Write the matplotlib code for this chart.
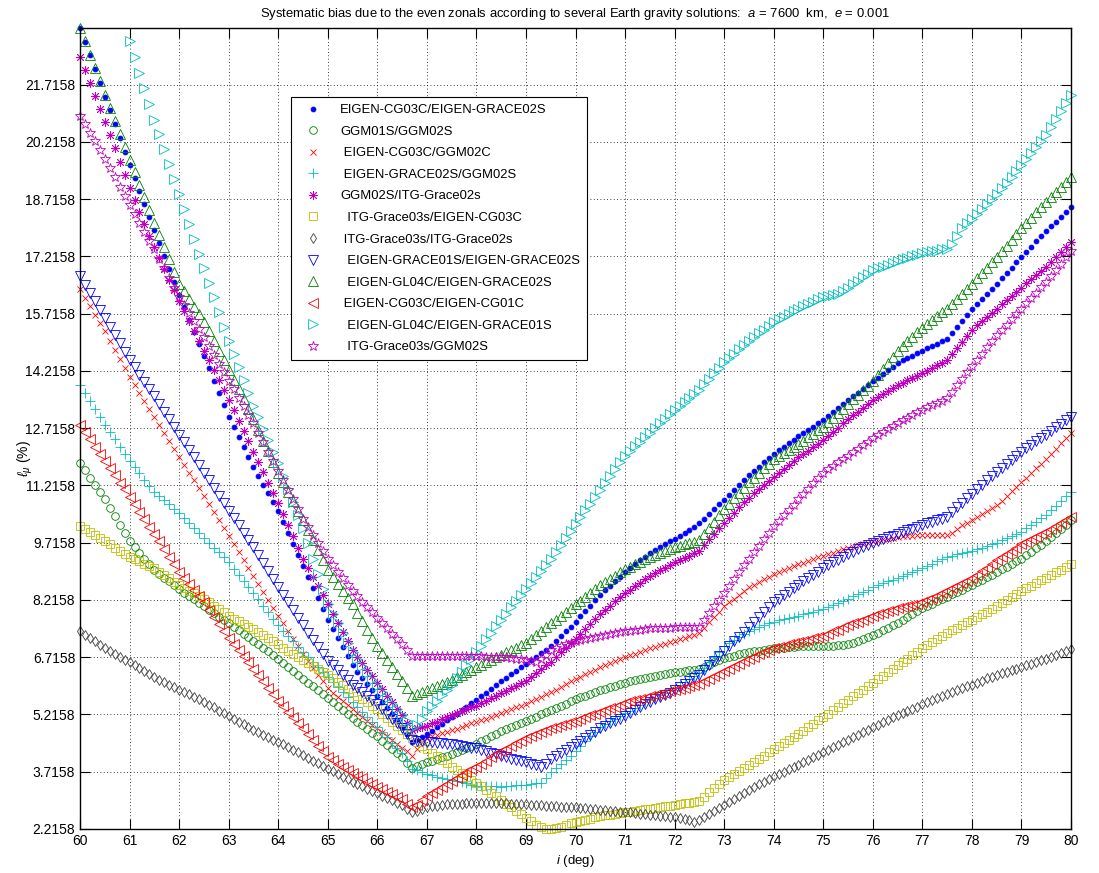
import numpy as np
import matplotlib
matplotlib.use('Agg')
import matplotlib.pyplot as plt
from matplotlib.ticker import FormatStrFormatter

plt.rcParams['font.family'] = ['Liberation Sans', 'DejaVu Sans']
plt.rcParams['mathtext.fontset'] = 'custom'
plt.rcParams['mathtext.it'] = 'Liberation Sans:italic'
plt.rcParams['mathtext.rm'] = 'Liberation Sans'

# inclination grid (deg), 0.1 deg step
incl = np.linspace(60.0, 80.0, 201)

labels = ['EIGEN-CG03C/EIGEN-GRACE02S', 'GGM01S/GGM02S', ' EIGEN-CG03C/GGM02C',
          ' EIGEN-GRACE02S/GGM02S', 'GGM02S/ITG-Grace02s', '  ITG-Grace03s/EIGEN-CG03C',
          ' ITG-Grace03s/ITG-Grace02s', '  EIGEN-GRACE01S/EIGEN-GRACE02S',
          '  EIGEN-GL04C/EIGEN-GRACE02S', ' EIGEN-CG03C/EIGEN-CG01C',
          '  EIGEN-GL04C/EIGEN-GRACE01S', '  ITG-Grace03s/GGM02S']

cg03c_grace02s = [
 23.2, 22.84, 22.48, 22.12, 21.76, 21.4, 21.04, 20.68, 20.32, 19.96,
 19.6, 19.26, 18.92, 18.58, 18.24, 17.9, 17.56, 17.22, 16.88, 16.54,
 16.2, 15.88, 15.56, 15.24, 14.92, 14.6, 14.28, 13.96, 13.64, 13.32,
 13.0, 12.74, 12.48, 12.22, 11.96, 11.7, 11.47, 11.24, 11.01, 10.78,
 10.55, 10.26, 9.97, 9.68, 9.39, 9.1, 8.82, 8.54, 8.26, 7.98,
 7.7, 7.46, 7.22, 6.98, 6.74, 6.5, 6.34, 6.18, 6.02, 5.86,
 5.7, 5.54, 5.38, 5.22, 5.06, 4.9, 4.7, 4.5, 4.55, 4.62,
 4.7, 4.79, 4.88, 4.97, 5.06, 5.15, 5.24, 5.33, 5.42, 5.51,
 5.6, 5.7, 5.79, 5.89, 5.98, 6.08, 6.17, 6.27, 6.36, 6.46,
 6.55, 6.64, 6.73, 6.82, 6.91, 7.0, 7.13, 7.26, 7.39, 7.52,
 7.65, 7.79, 7.93, 8.07, 8.21, 8.35, 8.47, 8.59, 8.71, 8.83,
 8.95, 9.05, 9.15, 9.25, 9.35, 9.45, 9.52, 9.6, 9.67, 9.75,
 9.82, 9.9, 9.98, 10.06, 10.14, 10.22, 10.34, 10.47, 10.59, 10.72,
 10.84, 10.97, 11.1, 11.22, 11.35, 11.48, 11.59, 11.71, 11.82, 11.94,
 12.05, 12.14, 12.23, 12.32, 12.41, 12.5, 12.59, 12.67, 12.76, 12.84,
 12.93, 13.03, 13.14, 13.24, 13.35, 13.45, 13.55, 13.65, 13.75, 13.85,
 13.95, 14.04, 14.14, 14.23, 14.33, 14.42, 14.49, 14.55, 14.62, 14.68,
 14.75, 14.81, 14.87, 14.93, 14.99, 15.05, 15.21, 15.37, 15.53, 15.69,
 15.85, 15.98, 16.11, 16.24, 16.37, 16.5, 16.64, 16.78, 16.92, 17.06,
 17.2, 17.34, 17.47, 17.61, 17.74, 17.88, 18.0, 18.13, 18.25, 18.38,
 18.5]

ggm01s_ggm02s = [
 11.8, 11.61, 11.42, 11.23, 11.04, 10.85, 10.63, 10.41, 10.19, 9.97,
 9.75, 9.6, 9.45, 9.3, 9.15, 9.0, 8.9, 8.8, 8.7, 8.6,
 8.5, 8.41, 8.32, 8.23, 8.14, 8.05, 7.96, 7.87, 7.78, 7.69,
 7.6, 7.51, 7.42, 7.33, 7.24, 7.15, 7.06, 6.96, 6.87, 6.77,
 6.68, 6.57, 6.47, 6.36, 6.26, 6.15, 6.05, 5.95, 5.85, 5.75,
 5.65, 5.54, 5.44, 5.33, 5.23, 5.12, 5.02, 4.93, 4.83, 4.74,
 4.64, 4.53, 4.42, 4.32, 4.21, 4.1, 3.95, 3.82, 3.86, 3.92,
 3.97, 4.01, 4.05, 4.09, 4.13, 4.17, 4.23, 4.28, 4.34, 4.39,
 4.45, 4.52, 4.58, 4.65, 4.71, 4.78, 4.83, 4.89, 4.94, 5.0,
 5.05, 5.11, 5.16, 5.22, 5.27, 5.33, 5.39, 5.45, 5.5, 5.56,
 5.62, 5.67, 5.71, 5.76, 5.8, 5.85, 5.89, 5.93, 5.97, 6.01,
 6.05, 6.08, 6.11, 6.14, 6.17, 6.2, 6.22, 6.25, 6.27, 6.3,
 6.32, 6.34, 6.35, 6.37, 6.38, 6.4, 6.46, 6.52, 6.58, 6.64,
 6.7, 6.73, 6.76, 6.79, 6.82, 6.85, 6.87, 6.89, 6.91, 6.93,
 6.95, 6.96, 6.97, 6.98, 6.99, 7.0, 7.0, 7.0, 7.0, 7.0,
 7.0, 7.01, 7.02, 7.03, 7.04, 7.05, 7.1, 7.15, 7.2, 7.25,
 7.3, 7.36, 7.43, 7.49, 7.56, 7.62, 7.7, 7.77, 7.85, 7.92,
 8.0, 8.06, 8.12, 8.18, 8.24, 8.3, 8.36, 8.43, 8.49, 8.56,
 8.62, 8.69, 8.75, 8.82, 8.88, 8.95, 9.02, 9.09, 9.16, 9.23,
 9.3, 9.39, 9.48, 9.57, 9.66, 9.75, 9.86, 9.97, 10.08, 10.19,
 10.3]

cg03c_ggm02c = [
 16.35, 16.13, 15.91, 15.69, 15.47, 15.25, 15.01, 14.77, 14.53, 14.29,
 14.05, 13.84, 13.63, 13.42, 13.21, 13.0, 12.79, 12.58, 12.37, 12.16,
 11.95, 11.75, 11.55, 11.35, 11.15, 10.95, 10.74, 10.53, 10.32, 10.11,
 9.9, 9.69, 9.48, 9.27, 9.06, 8.85, 8.64, 8.43, 8.22, 8.01,
 7.8, 7.6, 7.4, 7.2, 7.0, 6.8, 6.62, 6.44, 6.26, 6.08,
 5.9, 5.79, 5.68, 5.57, 5.46, 5.35, 5.25, 5.15, 5.05, 4.95,
 4.85, 4.75, 4.65, 4.55, 4.45, 4.35, 4.25, 4.12, 4.3, 4.5,
 4.6, 4.64, 4.68, 4.72, 4.76, 4.8, 4.84, 4.89, 4.93, 4.98,
 5.02, 5.07, 5.11, 5.16, 5.2, 5.25, 5.3, 5.35, 5.4, 5.45,
 5.5, 5.56, 5.62, 5.68, 5.74, 5.8, 5.87, 5.94, 6.01, 6.08,
 6.15, 6.21, 6.27, 6.33, 6.39, 6.45, 6.5, 6.56, 6.61, 6.67,
 6.72, 6.77, 6.81, 6.86, 6.9, 6.95, 6.99, 7.03, 7.07, 7.11,
 7.15, 7.19, 7.23, 7.27, 7.31, 7.35, 7.49, 7.63, 7.77, 7.91,
 8.05, 8.15, 8.25, 8.35, 8.45, 8.55, 8.62, 8.69, 8.76, 8.83,
 8.9, 8.95, 9.0, 9.05, 9.1, 9.15, 9.19, 9.24, 9.28, 9.33,
 9.37, 9.41, 9.45, 9.5, 9.54, 9.58, 9.61, 9.65, 9.68, 9.72,
 9.75, 9.77, 9.8, 9.82, 9.85, 9.87, 9.88, 9.89, 9.9, 9.91,
 9.92, 9.92, 9.92, 9.93, 9.93, 9.93, 9.98, 10.08, 10.17, 10.24,
 10.3, 10.38, 10.46, 10.54, 10.62, 10.7, 10.82, 10.94, 11.06, 11.18,
 11.3, 11.42, 11.54, 11.66, 11.78, 11.9, 12.04, 12.18, 12.32, 12.46,
 12.6]

grace02s_ggm02s = [
 13.85, 13.64, 13.43, 13.22, 13.01, 12.8, 12.61, 12.42, 12.23, 12.04,
 11.85, 11.69, 11.53, 11.37, 11.21, 11.05, 10.94, 10.83, 10.72, 10.61,
 10.5, 10.37, 10.24, 10.11, 9.98, 9.85, 9.72, 9.59, 9.46, 9.33,
 9.2, 9.04, 8.88, 8.72, 8.56, 8.4, 8.23, 8.06, 7.89, 7.72,
 7.55, 7.41, 7.27, 7.13, 6.99, 6.85, 6.72, 6.59, 6.46, 6.33,
 6.2, 6.07, 5.94, 5.81, 5.68, 5.55, 5.42, 5.29, 5.16, 5.03,
 4.9, 4.76, 4.62, 4.48, 4.34, 4.2, 4.0, 3.8, 3.75, 3.7,
 3.65, 3.62, 3.59, 3.56, 3.53, 3.5, 3.47, 3.44, 3.41, 3.38,
 3.35, 3.34, 3.34, 3.33, 3.33, 3.32, 3.33, 3.35, 3.36, 3.37,
 3.38, 3.4, 3.42, 3.42, 3.55, 3.7, 3.81, 3.92, 4.03, 4.14,
 4.25, 4.38, 4.51, 4.64, 4.77, 4.9, 4.97, 5.04, 5.11, 5.18,
 5.25, 5.32, 5.39, 5.46, 5.53, 5.6, 5.66, 5.73, 5.79, 5.86,
 5.92, 6.0, 6.07, 6.15, 6.22, 6.3, 6.44, 6.58, 6.72, 6.86,
 7.0, 7.08, 7.16, 7.24, 7.32, 7.4, 7.45, 7.5, 7.55, 7.6,
 7.65, 7.68, 7.71, 7.74, 7.77, 7.8, 7.84, 7.87, 7.91, 7.94,
 7.98, 8.03, 8.09, 8.14, 8.2, 8.25, 8.31, 8.37, 8.43, 8.49,
 8.55, 8.6, 8.65, 8.7, 8.75, 8.8, 8.85, 8.9, 8.95, 9.0,
 9.05, 9.11, 9.17, 9.23, 9.29, 9.35, 9.38, 9.41, 9.44, 9.47,
 9.5, 9.54, 9.59, 9.63, 9.68, 9.72, 9.78, 9.83, 9.89, 9.94,
 10.0, 10.09, 10.18, 10.27, 10.36, 10.45, 10.57, 10.69, 10.81, 10.93,
 11.05]

ggm02s_itg02s = [
 22.45, 22.11, 21.77, 21.43, 21.09, 20.75, 20.4, 20.05, 19.7, 19.35,
 19.0, 18.69, 18.38, 18.07, 17.76, 17.45, 17.17, 16.89, 16.61, 16.33,
 16.05, 15.79, 15.53, 15.27, 15.01, 14.75, 14.49, 14.23, 13.97, 13.71,
 13.45, 13.18, 12.91, 12.64, 12.37, 12.1, 11.83, 11.56, 11.29, 11.02,
 10.75, 10.46, 10.17, 9.88, 9.59, 9.3, 9.06, 8.82, 8.58, 8.34,
 8.1, 7.86, 7.62, 7.38, 7.14, 6.9, 6.73, 6.56, 6.39, 6.22,
 6.05, 5.88, 5.71, 5.54, 5.37, 5.2, 5.0, 4.82, 4.85, 4.88,
 4.92, 4.98, 5.03, 5.09, 5.14, 5.2, 5.25, 5.3, 5.35, 5.4,
 5.45, 5.52, 5.58, 5.65, 5.71, 5.78, 5.84, 5.91, 5.97, 6.04,
 6.1, 6.2, 6.3, 6.4, 6.5, 6.6, 6.72, 6.84, 6.96, 7.08,
 7.2, 7.33, 7.46, 7.59, 7.72, 7.85, 7.96, 8.07, 8.18, 8.29,
 8.4, 8.49, 8.58, 8.67, 8.76, 8.85, 8.92, 8.99, 9.06, 9.13,
 9.2, 9.26, 9.32, 9.38, 9.44, 9.5, 9.65, 9.8, 9.94, 10.09,
 10.24, 10.37, 10.5, 10.64, 10.77, 10.9, 11.01, 11.12, 11.23, 11.34,
 11.45, 11.55, 11.65, 11.75, 11.85, 11.95, 12.04, 12.13, 12.22, 12.31,
 12.4, 12.51, 12.62, 12.73, 12.84, 12.95, 13.05, 13.15, 13.25, 13.35,
 13.45, 13.53, 13.61, 13.69, 13.77, 13.85, 13.91, 13.97, 14.03, 14.09,
 14.15, 14.22, 14.29, 14.36, 14.43, 14.5, 14.66, 14.82, 14.98, 15.14,
 15.3, 15.41, 15.52, 15.63, 15.74, 15.85, 15.96, 16.07, 16.18, 16.29,
 16.4, 16.51, 16.62, 16.73, 16.84, 16.95, 17.08, 17.21, 17.34, 17.47,
 17.6]

itg03s_cg03c = [
 10.15, 10.07, 9.99, 9.91, 9.83, 9.75, 9.67, 9.59, 9.51, 9.43,
 9.35, 9.29, 9.23, 9.17, 9.11, 9.05, 8.96, 8.87, 8.78, 8.69,
 8.6, 8.53, 8.46, 8.39, 8.32, 8.25, 8.16, 8.07, 7.98, 7.89,
 7.8, 7.73, 7.66, 7.59, 7.52, 7.45, 7.37, 7.29, 7.21, 7.13,
 7.05, 6.97, 6.89, 6.81, 6.73, 6.65, 6.57, 6.49, 6.41, 6.33,
 6.25, 6.16, 6.07, 5.98, 5.89, 5.8, 5.71, 5.62, 5.53, 5.44,
 5.35, 5.24, 5.13, 5.02, 4.91, 4.8, 4.7, 4.6, 4.5, 4.4,
 4.3, 4.21, 4.12, 4.03, 3.94, 3.85, 3.76, 3.68, 3.59, 3.51,
 3.42, 3.33, 3.24, 3.16, 3.07, 2.98, 2.88, 2.79, 2.69, 2.6,
 2.5, 2.42, 2.33, 2.26, 2.2158, 2.2158, 2.23, 2.27, 2.31, 2.36,
 2.4, 2.43, 2.46, 2.49, 2.52, 2.55, 2.57, 2.59, 2.61, 2.63,
 2.65, 2.67, 2.69, 2.71, 2.73, 2.75, 2.77, 2.79, 2.81, 2.83,
 2.85, 2.87, 2.89, 2.91, 2.93, 2.95, 3.05, 3.18, 3.3, 3.4,
 3.5, 3.58, 3.66, 3.74, 3.82, 3.9, 3.98, 4.06, 4.14, 4.22,
 4.3, 4.38, 4.46, 4.54, 4.62, 4.7, 4.79, 4.88, 4.97, 5.06,
 5.15, 5.24, 5.33, 5.42, 5.51, 5.6, 5.69, 5.78, 5.87, 5.96,
 6.05, 6.14, 6.23, 6.32, 6.41, 6.5, 6.59, 6.68, 6.77, 6.86,
 6.95, 7.03, 7.11, 7.19, 7.27, 7.35, 7.42, 7.49, 7.56, 7.63,
 7.7, 7.77, 7.84, 7.91, 7.98, 8.05, 8.13, 8.21, 8.29, 8.37,
 8.45, 8.52, 8.59, 8.66, 8.73, 8.8, 8.87, 8.94, 9.01, 9.08,
 9.15]

itg03s_itg02s = [
 7.4, 7.31, 7.22, 7.13, 7.04, 6.95, 6.88, 6.8, 6.73, 6.65,
 6.58, 6.5, 6.43, 6.35, 6.28, 6.2, 6.13, 6.07, 6.0, 5.94,
 5.87, 5.81, 5.74, 5.68, 5.61, 5.55, 5.47, 5.4, 5.32, 5.25,
 5.17, 5.1, 5.03, 4.96, 4.89, 4.82, 4.76, 4.69, 4.63, 4.56,
 4.5, 4.43, 4.36, 4.29, 4.22, 4.15, 4.08, 4.01, 3.94, 3.87,
 3.8, 3.73, 3.66, 3.59, 3.52, 3.45, 3.39, 3.33, 3.27, 3.21,
 3.15, 3.09, 3.03, 2.97, 2.91, 2.85, 2.75, 2.65, 2.68, 2.75,
 2.8, 2.81, 2.83, 2.84, 2.86, 2.87, 2.88, 2.88, 2.89, 2.89,
 2.9, 2.9, 2.9, 2.9, 2.9, 2.9, 2.89, 2.88, 2.88, 2.87,
 2.86, 2.85, 2.84, 2.84, 2.83, 2.82, 2.81, 2.8, 2.8, 2.79,
 2.78, 2.77, 2.76, 2.74, 2.73, 2.72, 2.71, 2.7, 2.68, 2.67,
 2.66, 2.65, 2.63, 2.62, 2.6, 2.59, 2.58, 2.56, 2.55, 2.53,
 2.52, 2.5, 2.47, 2.44, 2.4, 2.45, 2.52, 2.6, 2.68, 2.77,
 2.85, 2.93, 3.01, 3.09, 3.17, 3.25, 3.32, 3.39, 3.46, 3.53,
 3.6, 3.66, 3.72, 3.78, 3.84, 3.9, 3.97, 4.03, 4.1, 4.16,
 4.23, 4.29, 4.36, 4.42, 4.49, 4.55, 4.62, 4.68, 4.75, 4.81,
 4.88, 4.94, 5.01, 5.07, 5.14, 5.2, 5.26, 5.31, 5.37, 5.42,
 5.48, 5.53, 5.59, 5.64, 5.7, 5.75, 5.8, 5.85, 5.9, 5.95,
 6.0, 6.05, 6.1, 6.16, 6.21, 6.26, 6.3, 6.34, 6.38, 6.42,
 6.46, 6.5, 6.55, 6.59, 6.64, 6.68, 6.73, 6.78, 6.82, 6.87,
 6.92]

grace01s_grace02s = [
 16.7, 16.48, 16.26, 16.04, 15.82, 15.6, 15.38, 15.16, 14.94, 14.72,
 14.5, 14.31, 14.12, 13.93, 13.74, 13.55, 13.35, 13.15, 12.95, 12.75,
 12.55, 12.35, 12.15, 11.95, 11.75, 11.55, 11.35, 11.15, 10.95, 10.75,
 10.55, 10.36, 10.17, 9.98, 9.79, 9.6, 9.39, 9.18, 8.97, 8.76,
 8.55, 8.35, 8.15, 7.95, 7.75, 7.55, 7.36, 7.18, 6.99, 6.81,
 6.62, 6.5, 6.37, 6.25, 6.12, 6.0, 5.9, 5.8, 5.7, 5.6,
 5.5, 5.37, 5.24, 5.11, 4.98, 4.85, 4.7, 4.55, 4.53, 4.52,
 4.5, 4.49, 4.48, 4.46, 4.45, 4.44, 4.42, 4.4, 4.37, 4.35,
 4.33, 4.29, 4.25, 4.21, 4.17, 4.13, 4.1, 4.06, 4.03, 3.99,
 3.96, 3.92, 3.88, 3.85, 3.93, 4.05, 4.13, 4.21, 4.29, 4.37,
 4.45, 4.53, 4.61, 4.69, 4.77, 4.85, 4.92, 4.98, 5.05, 5.11,
 5.18, 5.25, 5.33, 5.4, 5.48, 5.55, 5.61, 5.67, 5.73, 5.79,
 5.85, 5.93, 6.01, 6.09, 6.17, 6.25, 6.38, 6.5, 6.63, 6.75,
 6.88, 7.0, 7.13, 7.25, 7.38, 7.5, 7.63, 7.76, 7.89, 8.02,
 8.15, 8.24, 8.34, 8.43, 8.53, 8.62, 8.71, 8.79, 8.88, 8.96,
 9.05, 9.12, 9.2, 9.27, 9.35, 9.42, 9.48, 9.54, 9.6, 9.66,
 9.72, 9.77, 9.81, 9.86, 9.9, 9.95, 9.99, 10.04, 10.08, 10.13,
 10.17, 10.22, 10.26, 10.31, 10.35, 10.4, 10.52, 10.64, 10.76, 10.88,
 11.0, 11.12, 11.23, 11.35, 11.46, 11.58, 11.68, 11.79, 11.89, 12.0,
 12.1, 12.19, 12.28, 12.37, 12.46, 12.55, 12.64, 12.74, 12.83, 12.93,
 13.02]

gl04c_grace02s = [
 23.2, 22.85, 22.5, 22.15, 21.8, 21.45, 21.11, 20.77, 20.43, 20.09,
 19.75, 19.42, 19.09, 18.76, 18.43, 18.1, 17.78, 17.46, 17.14, 16.82,
 16.5, 16.3, 16.1, 15.9, 15.7, 15.5, 15.25, 15.0, 14.75, 14.5,
 14.25, 13.99, 13.73, 13.47, 13.21, 12.95, 12.67, 12.39, 12.11, 11.83,
 11.55, 11.3, 11.05, 10.8, 10.55, 10.3, 10.04, 9.78, 9.52, 9.26,
 9.0, 8.82, 8.64, 8.46, 8.28, 8.1, 7.88, 7.66, 7.44, 7.22,
 7.0, 6.82, 6.64, 6.46, 6.28, 6.1, 5.9, 5.7, 5.75, 5.8,
 5.85, 5.9, 5.96, 6.01, 6.07, 6.12, 6.19, 6.25, 6.32, 6.38,
 6.45, 6.52, 6.58, 6.65, 6.71, 6.78, 6.84, 6.91, 6.97, 7.04,
 7.1, 7.2, 7.3, 7.4, 7.5, 7.6, 7.7, 7.8, 7.9, 8.0,
 8.1, 8.2, 8.3, 8.4, 8.5, 8.6, 8.68, 8.77, 8.85, 8.94,
 9.02, 9.09, 9.15, 9.22, 9.28, 9.35, 9.4, 9.45, 9.5, 9.55,
 9.6, 9.64, 9.67, 9.71, 9.74, 9.78, 9.94, 10.11, 10.27, 10.44,
 10.6, 10.74, 10.88, 11.02, 11.16, 11.3, 11.42, 11.54, 11.66, 11.78,
 11.9, 11.98, 12.06, 12.14, 12.22, 12.3, 12.39, 12.48, 12.57, 12.66,
 12.75, 12.87, 12.99, 13.11, 13.23, 13.35, 13.47, 13.59, 13.71, 13.83,
 13.95, 14.11, 14.27, 14.43, 14.59, 14.75, 14.87, 14.99, 15.11, 15.23,
 15.35, 15.45, 15.55, 15.65, 15.75, 15.85, 15.98, 16.11, 16.24, 16.37,
 16.5, 16.64, 16.78, 16.92, 17.06, 17.2, 17.35, 17.5, 17.65, 17.8,
 17.95, 18.09, 18.23, 18.37, 18.51, 18.65, 18.78, 18.91, 19.04, 19.17,
 19.3]

cg03c_cg01c = [
 12.8, 12.61, 12.42, 12.23, 12.04, 11.85, 11.66, 11.48, 11.29, 11.11,
 10.92, 10.73, 10.53, 10.34, 10.14, 9.95, 9.75, 9.55, 9.35, 9.15,
 8.95, 8.79, 8.63, 8.47, 8.31, 8.15, 7.96, 7.78, 7.59, 7.41,
 7.22, 7.06, 6.9, 6.74, 6.58, 6.42, 6.25, 6.08, 5.92, 5.75,
 5.58, 5.43, 5.29, 5.14, 5.0, 4.85, 4.7, 4.55, 4.4, 4.25,
 4.1, 4.02, 3.93, 3.85, 3.76, 3.68, 3.61, 3.54, 3.46, 3.39,
 3.32, 3.26, 3.19, 3.13, 3.06, 3.0, 2.88, 2.78, 2.85, 2.98,
 3.08, 3.16, 3.24, 3.32, 3.4, 3.48, 3.55, 3.63, 3.7, 3.78,
 3.85, 3.93, 4.01, 4.09, 4.17, 4.25, 4.32, 4.39, 4.46, 4.53,
 4.6, 4.65, 4.7, 4.75, 4.8, 4.85, 4.89, 4.93, 4.97, 5.01,
 5.05, 5.1, 5.14, 5.19, 5.23, 5.28, 5.33, 5.38, 5.42, 5.47,
 5.52, 5.56, 5.59, 5.63, 5.66, 5.7, 5.73, 5.76, 5.79, 5.82,
 5.85, 5.88, 5.92, 5.95, 5.99, 6.02, 6.09, 6.15, 6.22, 6.28,
 6.35, 6.42, 6.48, 6.55, 6.61, 6.68, 6.73, 6.79, 6.84, 6.9,
 6.95, 6.98, 7.02, 7.05, 7.09, 7.12, 7.15, 7.18, 7.22, 7.25,
 7.28, 7.33, 7.39, 7.44, 7.5, 7.55, 7.6, 7.65, 7.7, 7.75,
 7.8, 7.84, 7.88, 7.92, 7.96, 8.0, 8.03, 8.06, 8.09, 8.12,
 8.15, 8.21, 8.27, 8.33, 8.39, 8.45, 8.52, 8.58, 8.65, 8.71,
 8.78, 8.87, 8.97, 9.06, 9.16, 9.25, 9.34, 9.42, 9.51, 9.59,
 9.68, 9.74, 9.81, 9.87, 9.94, 10.0, 10.08, 10.16, 10.24, 10.32,
 10.4]

nan = float('nan')
gl04c_grace01s = [
 nan, nan, nan, nan, nan, nan, nan, nan, nan, nan,
 22.85, 22.44, 22.03, 21.62, 21.21, 20.8, 20.41, 20.02, 19.63, 19.24,
 18.85, 18.46, 18.07, 17.68, 17.29, 16.9, 16.52, 16.14, 15.76, 15.38,
 15.0, 14.66, 14.32, 13.98, 13.64, 13.3, 13.0, 12.7, 12.4, 12.1,
 11.8, 11.46, 11.12, 10.78, 10.44, 10.1, 9.7, 9.3, 8.9, 8.5,
 8.1, 7.85, 7.6, 7.35, 7.1, 6.85, 6.67, 6.49, 6.31, 6.13,
 5.95, 5.8, 5.65, 5.5, 5.35, 5.2, 5.05, 4.85, 4.95, 5.1,
 5.3, 5.44, 5.58, 5.72, 5.86, 6.0, 6.17, 6.34, 6.51, 6.68,
 6.85, 7.02, 7.19, 7.36, 7.53, 7.7, 7.86, 8.02, 8.18, 8.34,
 8.5, 8.66, 8.82, 8.98, 9.14, 9.3, 9.48, 9.66, 9.84, 10.02,
 10.2, 10.38, 10.56, 10.74, 10.92, 11.1, 11.28, 11.46, 11.64, 11.82,
 12.0, 12.12, 12.24, 12.36, 12.48, 12.6, 12.72, 12.84, 12.96, 13.08,
 13.2, 13.3, 13.41, 13.51, 13.62, 13.72, 13.87, 14.01, 14.16, 14.3,
 14.45, 14.56, 14.67, 14.78, 14.89, 15.0, 15.1, 15.2, 15.3, 15.4,
 15.5, 15.57, 15.64, 15.71, 15.78, 15.85, 15.91, 15.97, 16.03, 16.09,
 16.15, 16.18, 16.21, 16.24, 16.3, 16.4, 16.49, 16.58, 16.67, 16.76,
 16.85, 16.9, 16.95, 17.0, 17.05, 17.1, 17.14, 17.18, 17.22, 17.26,
 17.3, 17.32, 17.35, 17.37, 17.4, 17.42, 17.55, 17.75, 17.95, 18.08,
 18.2, 18.33, 18.46, 18.59, 18.72, 18.85, 19.0, 19.15, 19.3, 19.45,
 19.6, 19.76, 19.92, 20.08, 20.24, 20.4, 20.61, 20.82, 21.03, 21.24,
 21.45]

itg03s_ggm02s = [
 20.9, 20.68, 20.45, 20.23, 20.0, 19.78, 19.53, 19.29, 19.04, 18.8,
 18.55, 18.32, 18.09, 17.86, 17.63, 17.4, 17.15, 16.9, 16.65, 16.4,
 16.15, 15.94, 15.73, 15.52, 15.31, 15.1, 14.87, 14.64, 14.41, 14.18,
 13.95, 13.73, 13.51, 13.29, 13.07, 12.85, 12.6, 12.35, 12.1, 11.85,
 11.6, 11.35, 11.1, 10.85, 10.6, 10.35, 10.14, 9.93, 9.72, 9.51,
 9.3, 9.13, 8.96, 8.79, 8.62, 8.45, 8.31, 8.17, 8.03, 7.89,
 7.75, 7.61, 7.47, 7.33, 7.19, 7.05, 6.9, 6.75, 6.75, 6.75,
 6.75, 6.75, 6.75, 6.75, 6.75, 6.76, 6.75, 6.75, 6.74, 6.74,
 6.74, 6.74, 6.73, 6.73, 6.72, 6.72, 6.71, 6.7, 6.68, 6.67,
 6.65, 6.62, 6.58, 6.66, 6.78, 6.9, 6.95, 7.0, 7.05, 7.1,
 7.15, 7.18, 7.2, 7.23, 7.25, 7.28, 7.3, 7.33, 7.35, 7.38,
 7.4, 7.41, 7.43, 7.44, 7.46, 7.47, 7.48, 7.48, 7.49, 7.49,
 7.5, 7.5, 7.51, 7.51, 7.52, 7.52, 7.7, 7.87, 8.05, 8.22,
 8.4, 8.58, 8.76, 8.94, 9.12, 9.3, 9.47, 9.64, 9.81, 9.98,
 10.15, 10.29, 10.43, 10.57, 10.71, 10.85, 10.99, 11.13, 11.27, 11.41,
 11.55, 11.64, 11.73, 11.82, 11.91, 12.0, 12.09, 12.18, 12.27, 12.36,
 12.45, 12.53, 12.61, 12.69, 12.77, 12.85, 12.92, 12.99, 13.06, 13.13,
 13.2, 13.26, 13.32, 13.38, 13.44, 13.5, 13.67, 13.84, 14.01, 14.18,
 14.35, 14.51, 14.67, 14.83, 14.99, 15.15, 15.29, 15.43, 15.57, 15.71,
 15.85, 15.99, 16.13, 16.27, 16.41, 16.55, 16.71, 16.87, 17.03, 17.19,
 17.35]

series = [cg03c_grace02s, ggm01s_ggm02s, cg03c_ggm02c, grace02s_ggm02s, ggm02s_itg02s,
          itg03s_cg03c, itg03s_itg02s, grace01s_grace02s, gl04c_grace02s, cg03c_cg01c,
          gl04c_grace01s, itg03s_ggm02s]

# MATLAB-like styles: asterisk = 8-armed star, pentagram = '*'
asterisk = (8, 2, 0)
styles = [('.', (0, 0, 1), 7), ('o', (0, .5, 0), 5.5), ('x', (1, 0, 0), 5),
          ('+', (0, .75, .75), 6.5), (asterisk, (.75, 0, .75), 6.5), ('s', (.75, .75, 0), 6),
          ('d', (.25, .25, .25), 5.5), ('v', (0, 0, 1), 6.5), ('^', (0, .5, 0), 6.5),
          ('<', (1, 0, 0), 6.5), ('>', (0, .75, .75), 6.5), ('*', (.75, 0, .75), 7)]

y_ticks = [2.2158 + 1.5 * k for k in range(14)]

fig = plt.figure(figsize=(10.99, 8.73), dpi=100)
ax = fig.add_axes([80 / 1099, 44 / 873, 991 / 1099, 801 / 873])

for vals, lab, (mk, col, ms) in zip(series, labels, styles):
    kw = dict(linestyle='none', marker=mk, color=col, markersize=ms,
              markeredgewidth=0.6, label=lab, clip_on=False)
    if mk != '.':
        kw['markerfacecolor'] = 'none'
    ax.plot(incl, vals, **kw)

ax.set_xlim(60, 80)
ax.set_ylim(2.2158, 23.2)
ax.set_xticks(range(60, 81))
ax.set_yticks(y_ticks)
ax.yaxis.set_major_formatter(FormatStrFormatter('%.4f'))
ax.tick_params(direction='in', top=True, right=True, length=7, width=0.8,
               labelsize=10)
ax.grid(True, color='k', linestyle=(0, (1, 3)), linewidth=0.6)
for sp in ax.spines.values():
    sp.set_linewidth(1.0)

ax.set_title('Systematic bias due to the even zonals according to several Earth gravity solutions:  '
             '$a$ = 7600  km,  $e$ = 0.001', fontsize=9.4, pad=8)
ax.set_xlabel('$i$ (deg)', fontsize=9.5)
ax.set_ylabel(r'$\ell_{\mu}$ (%)', fontsize=10)
ax.yaxis.set_label_coords(-0.045, 0.462)

leg = ax.legend(loc='upper left', bbox_to_anchor=((291 - 80) / 991, (829 - 97) / 801),
                fontsize=9.4, numpoints=1, frameon=True, fancybox=False,
                edgecolor='k', framealpha=1, borderaxespad=0, labelspacing=0.72,
                handlelength=2.2, handletextpad=1.0, borderpad=0.55)
leg.get_frame().set_linewidth(0.8)

fig.savefig('out.png', dpi=100)
